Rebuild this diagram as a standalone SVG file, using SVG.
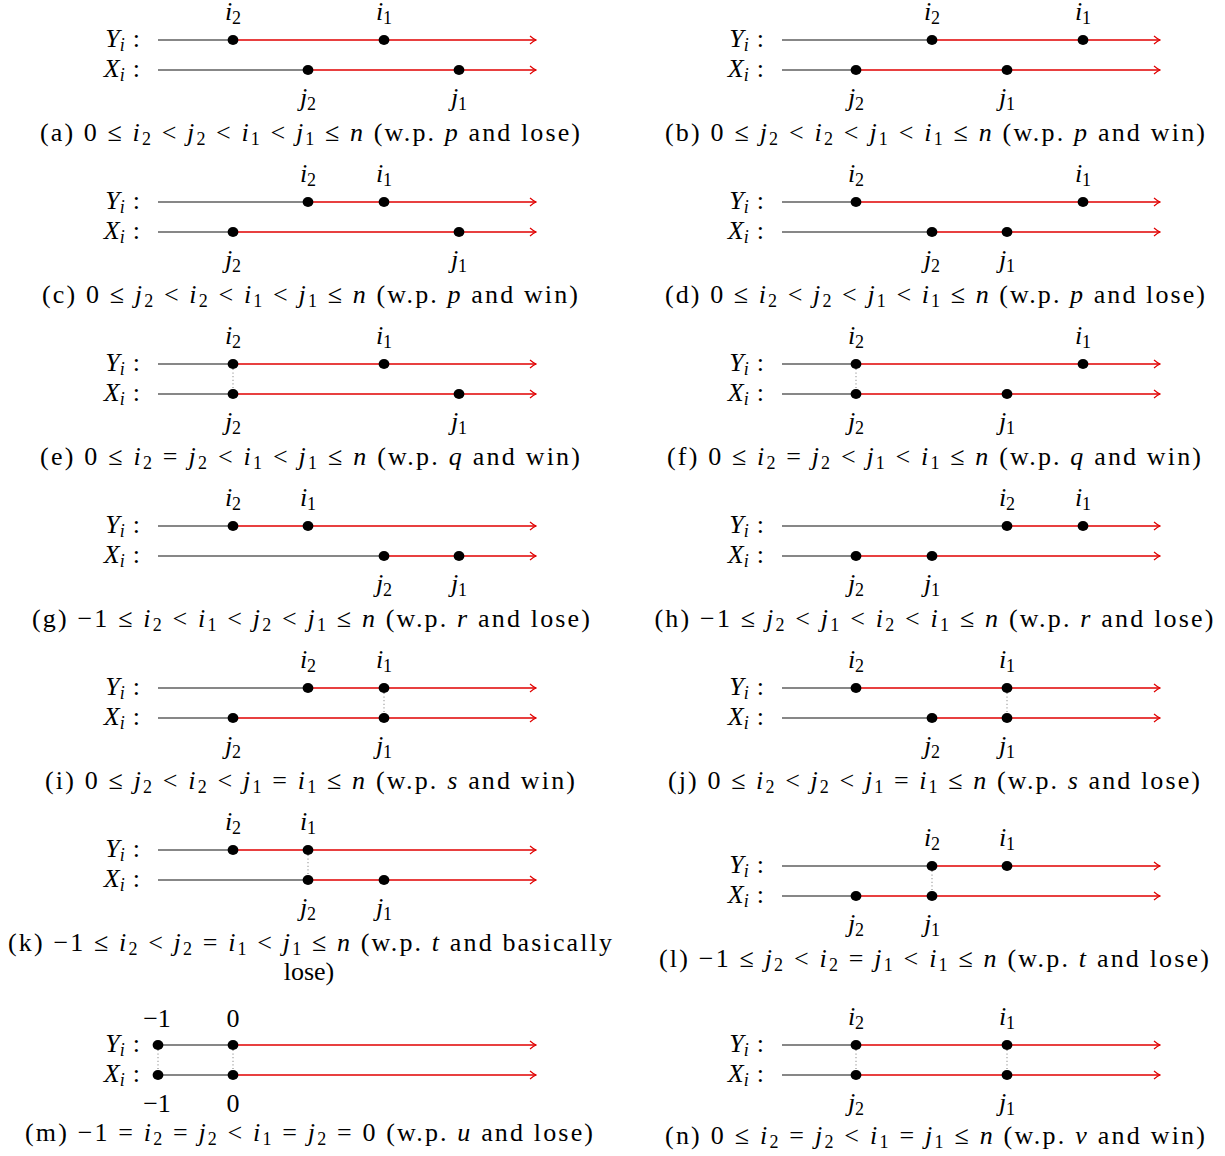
<svg xmlns="http://www.w3.org/2000/svg" width="1225" height="1156" viewBox="0 0 1225 1156">
<style>
text{font-family:"Liberation Serif",serif;font-size:26px;fill:#000}
.it{font-style:italic}
.s{font-size:18px}
.k{stroke:#111;stroke-width:1.2;fill:none}
.r{stroke:#e00000;stroke-width:1.3;fill:none;marker-end:url(#arr)}
.d{stroke:#666;stroke-width:0.9;stroke-dasharray:1 2.6;fill:none}
.m{text-anchor:middle}
.e{text-anchor:end}
</style>
<defs>
<marker id="arr" viewBox="-7 -5 8 10" refX="0" refY="0" markerWidth="8" markerHeight="10" markerUnits="userSpaceOnUse" orient="auto">
<path d="M-6,-4 Q-2.5,-1 0,0 Q-2.5,1 -6,4" stroke="#e00000" stroke-width="1.2" fill="none"/>
</marker>
<ellipse id="pt" rx="5.4" ry="5" fill="#000"/>
</defs>

<!-- (a) -->
<g id="panel-a">
<text x="140" y="47" class="e"><tspan class="it">Y</tspan><tspan class="s it" dy="4">i</tspan><tspan dx="8" dy="-4">:</tspan></text>
<text x="140" y="77" class="e"><tspan class="it">X</tspan><tspan class="s it" dy="4">i</tspan><tspan dx="8" dy="-4">:</tspan></text>
<g class="lines"><path class="k" d="M158,40H233M158,70H308"/><path class="r" d="M233,40H536"/><path class="r" d="M308,70H536"/></g>
<use href="#pt" x="233" y="40"/><use href="#pt" x="384" y="40"/><use href="#pt" x="308" y="70"/><use href="#pt" x="459" y="70"/>
<text x="233" y="20" class="m"><tspan class="it">i</tspan><tspan class="s" dy="4">2</tspan></text>
<text x="384" y="20" class="m"><tspan class="it">i</tspan><tspan class="s" dy="4">1</tspan></text>
<text x="308" y="106" class="m"><tspan class="it">j</tspan><tspan class="s" dy="4">2</tspan></text>
<text x="459" y="106" class="m"><tspan class="it">j</tspan><tspan class="s" dy="4">1</tspan></text>
<text x="310" y="141" class="m" textLength="540" lengthAdjust="spacing">(a) 0 ≤ <tspan class="it">i</tspan><tspan class="s" dy="4">2</tspan><tspan dy="-4"> &lt; </tspan><tspan class="it">j</tspan><tspan class="s" dy="4">2</tspan><tspan dy="-4"> &lt; </tspan><tspan class="it">i</tspan><tspan class="s" dy="4">1</tspan><tspan dy="-4"> &lt; </tspan><tspan class="it">j</tspan><tspan class="s" dy="4">1</tspan><tspan dy="-4"> ≤ </tspan><tspan class="it">n</tspan> (w.p. <tspan class="it">p</tspan> and lose)</text>
</g>

<!-- (b) -->
<g id="panel-b">
<text x="764" y="47" class="e"><tspan class="it">Y</tspan><tspan class="s it" dy="4">i</tspan><tspan dx="8" dy="-4">:</tspan></text>
<text x="764" y="77" class="e"><tspan class="it">X</tspan><tspan class="s it" dy="4">i</tspan><tspan dx="8" dy="-4">:</tspan></text>
<g class="lines"><path class="k" d="M782,40H932M782,70H856"/><path class="r" d="M932,40H1160"/><path class="r" d="M856,70H1160"/></g>
<use href="#pt" x="932" y="40"/><use href="#pt" x="1083" y="40"/><use href="#pt" x="856" y="70"/><use href="#pt" x="1007" y="70"/>
<text x="932" y="20" class="m"><tspan class="it">i</tspan><tspan class="s" dy="4">2</tspan></text>
<text x="1083" y="20" class="m"><tspan class="it">i</tspan><tspan class="s" dy="4">1</tspan></text>
<text x="856" y="106" class="m"><tspan class="it">j</tspan><tspan class="s" dy="4">2</tspan></text>
<text x="1007" y="106" class="m"><tspan class="it">j</tspan><tspan class="s" dy="4">1</tspan></text>
<text x="935" y="141" class="m" textLength="540" lengthAdjust="spacing">(b) 0 ≤ <tspan class="it">j</tspan><tspan class="s" dy="4">2</tspan><tspan dy="-4"> &lt; </tspan><tspan class="it">i</tspan><tspan class="s" dy="4">2</tspan><tspan dy="-4"> &lt; </tspan><tspan class="it">j</tspan><tspan class="s" dy="4">1</tspan><tspan dy="-4"> &lt; </tspan><tspan class="it">i</tspan><tspan class="s" dy="4">1</tspan><tspan dy="-4"> ≤ </tspan><tspan class="it">n</tspan> (w.p. <tspan class="it">p</tspan> and win)</text>
</g>

<!-- (c) -->
<g id="panel-c">
<text x="140" y="209" class="e"><tspan class="it">Y</tspan><tspan class="s it" dy="4">i</tspan><tspan dx="8" dy="-4">:</tspan></text>
<text x="140" y="239" class="e"><tspan class="it">X</tspan><tspan class="s it" dy="4">i</tspan><tspan dx="8" dy="-4">:</tspan></text>
<g class="lines"><path class="k" d="M158,202H308M158,232H233"/><path class="r" d="M308,202H536"/><path class="r" d="M233,232H536"/></g>
<use href="#pt" x="308" y="202"/><use href="#pt" x="384" y="202"/><use href="#pt" x="233" y="232"/><use href="#pt" x="459" y="232"/>
<text x="308" y="182" class="m"><tspan class="it">i</tspan><tspan class="s" dy="4">2</tspan></text>
<text x="384" y="182" class="m"><tspan class="it">i</tspan><tspan class="s" dy="4">1</tspan></text>
<text x="233" y="268" class="m"><tspan class="it">j</tspan><tspan class="s" dy="4">2</tspan></text>
<text x="459" y="268" class="m"><tspan class="it">j</tspan><tspan class="s" dy="4">1</tspan></text>
<text x="310" y="303" class="m" textLength="536" lengthAdjust="spacing">(c) 0 ≤ <tspan class="it">j</tspan><tspan class="s" dy="4">2</tspan><tspan dy="-4"> &lt; </tspan><tspan class="it">i</tspan><tspan class="s" dy="4">2</tspan><tspan dy="-4"> &lt; </tspan><tspan class="it">i</tspan><tspan class="s" dy="4">1</tspan><tspan dy="-4"> &lt; </tspan><tspan class="it">j</tspan><tspan class="s" dy="4">1</tspan><tspan dy="-4"> ≤ </tspan><tspan class="it">n</tspan> (w.p. <tspan class="it">p</tspan> and win)</text>
</g>

<!-- (d) -->
<g id="panel-d">
<text x="764" y="209" class="e"><tspan class="it">Y</tspan><tspan class="s it" dy="4">i</tspan><tspan dx="8" dy="-4">:</tspan></text>
<text x="764" y="239" class="e"><tspan class="it">X</tspan><tspan class="s it" dy="4">i</tspan><tspan dx="8" dy="-4">:</tspan></text>
<g class="lines"><path class="k" d="M782,202H856M782,232H932"/><path class="r" d="M856,202H1160"/><path class="r" d="M932,232H1160"/></g>
<use href="#pt" x="856" y="202"/><use href="#pt" x="1083" y="202"/><use href="#pt" x="932" y="232"/><use href="#pt" x="1007" y="232"/>
<text x="856" y="182" class="m"><tspan class="it">i</tspan><tspan class="s" dy="4">2</tspan></text>
<text x="1083" y="182" class="m"><tspan class="it">i</tspan><tspan class="s" dy="4">1</tspan></text>
<text x="932" y="268" class="m"><tspan class="it">j</tspan><tspan class="s" dy="4">2</tspan></text>
<text x="1007" y="268" class="m"><tspan class="it">j</tspan><tspan class="s" dy="4">1</tspan></text>
<text x="935" y="303" class="m" textLength="540" lengthAdjust="spacing">(d) 0 ≤ <tspan class="it">i</tspan><tspan class="s" dy="4">2</tspan><tspan dy="-4"> &lt; </tspan><tspan class="it">j</tspan><tspan class="s" dy="4">2</tspan><tspan dy="-4"> &lt; </tspan><tspan class="it">j</tspan><tspan class="s" dy="4">1</tspan><tspan dy="-4"> &lt; </tspan><tspan class="it">i</tspan><tspan class="s" dy="4">1</tspan><tspan dy="-4"> ≤ </tspan><tspan class="it">n</tspan> (w.p. <tspan class="it">p</tspan> and lose)</text>
</g>

<!-- (e) -->
<g id="panel-e">
<text x="140" y="371" class="e"><tspan class="it">Y</tspan><tspan class="s it" dy="4">i</tspan><tspan dx="8" dy="-4">:</tspan></text>
<text x="140" y="401" class="e"><tspan class="it">X</tspan><tspan class="s it" dy="4">i</tspan><tspan dx="8" dy="-4">:</tspan></text>
<g class="lines"><path class="k" d="M158,364H233M158,394H233"/><path class="r" d="M233,364H536"/><path class="r" d="M233,394H536"/><path class="d" d="M233,369V389"/></g>
<use href="#pt" x="233" y="364"/><use href="#pt" x="384" y="364"/><use href="#pt" x="233" y="394"/><use href="#pt" x="459" y="394"/>
<text x="233" y="344" class="m"><tspan class="it">i</tspan><tspan class="s" dy="4">2</tspan></text>
<text x="384" y="344" class="m"><tspan class="it">i</tspan><tspan class="s" dy="4">1</tspan></text>
<text x="233" y="430" class="m"><tspan class="it">j</tspan><tspan class="s" dy="4">2</tspan></text>
<text x="459" y="430" class="m"><tspan class="it">j</tspan><tspan class="s" dy="4">1</tspan></text>
<text x="310" y="465" class="m" textLength="540" lengthAdjust="spacing">(e) 0 ≤ <tspan class="it">i</tspan><tspan class="s" dy="4">2</tspan><tspan dy="-4"> = </tspan><tspan class="it">j</tspan><tspan class="s" dy="4">2</tspan><tspan dy="-4"> &lt; </tspan><tspan class="it">i</tspan><tspan class="s" dy="4">1</tspan><tspan dy="-4"> &lt; </tspan><tspan class="it">j</tspan><tspan class="s" dy="4">1</tspan><tspan dy="-4"> ≤ </tspan><tspan class="it">n</tspan> (w.p. <tspan class="it">q</tspan> and win)</text>
</g>

<!-- (f) -->
<g id="panel-f">
<text x="764" y="371" class="e"><tspan class="it">Y</tspan><tspan class="s it" dy="4">i</tspan><tspan dx="8" dy="-4">:</tspan></text>
<text x="764" y="401" class="e"><tspan class="it">X</tspan><tspan class="s it" dy="4">i</tspan><tspan dx="8" dy="-4">:</tspan></text>
<g class="lines"><path class="k" d="M782,364H856M782,394H856"/><path class="r" d="M856,364H1160"/><path class="r" d="M856,394H1160"/><path class="d" d="M856,369V389"/></g>
<use href="#pt" x="856" y="364"/><use href="#pt" x="1083" y="364"/><use href="#pt" x="856" y="394"/><use href="#pt" x="1007" y="394"/>
<text x="856" y="344" class="m"><tspan class="it">i</tspan><tspan class="s" dy="4">2</tspan></text>
<text x="1083" y="344" class="m"><tspan class="it">i</tspan><tspan class="s" dy="4">1</tspan></text>
<text x="856" y="430" class="m"><tspan class="it">j</tspan><tspan class="s" dy="4">2</tspan></text>
<text x="1007" y="430" class="m"><tspan class="it">j</tspan><tspan class="s" dy="4">1</tspan></text>
<text x="934" y="465" class="m" textLength="534" lengthAdjust="spacing">(f) 0 ≤ <tspan class="it">i</tspan><tspan class="s" dy="4">2</tspan><tspan dy="-4"> = </tspan><tspan class="it">j</tspan><tspan class="s" dy="4">2</tspan><tspan dy="-4"> &lt; </tspan><tspan class="it">j</tspan><tspan class="s" dy="4">1</tspan><tspan dy="-4"> &lt; </tspan><tspan class="it">i</tspan><tspan class="s" dy="4">1</tspan><tspan dy="-4"> ≤ </tspan><tspan class="it">n</tspan> (w.p. <tspan class="it">q</tspan> and win)</text>
</g>

<!-- (g) -->
<g id="panel-g">
<text x="140" y="533" class="e"><tspan class="it">Y</tspan><tspan class="s it" dy="4">i</tspan><tspan dx="8" dy="-4">:</tspan></text>
<text x="140" y="563" class="e"><tspan class="it">X</tspan><tspan class="s it" dy="4">i</tspan><tspan dx="8" dy="-4">:</tspan></text>
<g class="lines"><path class="k" d="M158,526H233M158,556H384"/><path class="r" d="M233,526H536"/><path class="r" d="M384,556H536"/></g>
<use href="#pt" x="233" y="526"/><use href="#pt" x="308" y="526"/><use href="#pt" x="384" y="556"/><use href="#pt" x="459" y="556"/>
<text x="233" y="506" class="m"><tspan class="it">i</tspan><tspan class="s" dy="4">2</tspan></text>
<text x="308" y="506" class="m"><tspan class="it">i</tspan><tspan class="s" dy="4">1</tspan></text>
<text x="384" y="592" class="m"><tspan class="it">j</tspan><tspan class="s" dy="4">2</tspan></text>
<text x="459" y="592" class="m"><tspan class="it">j</tspan><tspan class="s" dy="4">1</tspan></text>
<text x="311" y="627" class="m" textLength="558" lengthAdjust="spacing">(g) −1 ≤ <tspan class="it">i</tspan><tspan class="s" dy="4">2</tspan><tspan dy="-4"> &lt; </tspan><tspan class="it">i</tspan><tspan class="s" dy="4">1</tspan><tspan dy="-4"> &lt; </tspan><tspan class="it">j</tspan><tspan class="s" dy="4">2</tspan><tspan dy="-4"> &lt; </tspan><tspan class="it">j</tspan><tspan class="s" dy="4">1</tspan><tspan dy="-4"> ≤ </tspan><tspan class="it">n</tspan> (w.p. <tspan class="it">r</tspan> and lose)</text>
</g>

<!-- (h) -->
<g id="panel-h">
<text x="764" y="533" class="e"><tspan class="it">Y</tspan><tspan class="s it" dy="4">i</tspan><tspan dx="8" dy="-4">:</tspan></text>
<text x="764" y="563" class="e"><tspan class="it">X</tspan><tspan class="s it" dy="4">i</tspan><tspan dx="8" dy="-4">:</tspan></text>
<g class="lines"><path class="k" d="M782,526H1007M782,556H856"/><path class="r" d="M1007,526H1160"/><path class="r" d="M856,556H1160"/></g>
<use href="#pt" x="1007" y="526"/><use href="#pt" x="1083" y="526"/><use href="#pt" x="856" y="556"/><use href="#pt" x="932" y="556"/>
<text x="1007" y="506" class="m"><tspan class="it">i</tspan><tspan class="s" dy="4">2</tspan></text>
<text x="1083" y="506" class="m"><tspan class="it">i</tspan><tspan class="s" dy="4">1</tspan></text>
<text x="856" y="592" class="m"><tspan class="it">j</tspan><tspan class="s" dy="4">2</tspan></text>
<text x="932" y="592" class="m"><tspan class="it">j</tspan><tspan class="s" dy="4">1</tspan></text>
<text x="934" y="627" class="m" textLength="559" lengthAdjust="spacing">(h) −1 ≤ <tspan class="it">j</tspan><tspan class="s" dy="4">2</tspan><tspan dy="-4"> &lt; </tspan><tspan class="it">j</tspan><tspan class="s" dy="4">1</tspan><tspan dy="-4"> &lt; </tspan><tspan class="it">i</tspan><tspan class="s" dy="4">2</tspan><tspan dy="-4"> &lt; </tspan><tspan class="it">i</tspan><tspan class="s" dy="4">1</tspan><tspan dy="-4"> ≤ </tspan><tspan class="it">n</tspan> (w.p. <tspan class="it">r</tspan> and lose)</text>
</g>

<!-- (i) -->
<g id="panel-i">
<text x="140" y="695" class="e"><tspan class="it">Y</tspan><tspan class="s it" dy="4">i</tspan><tspan dx="8" dy="-4">:</tspan></text>
<text x="140" y="725" class="e"><tspan class="it">X</tspan><tspan class="s it" dy="4">i</tspan><tspan dx="8" dy="-4">:</tspan></text>
<g class="lines"><path class="k" d="M158,688H308M158,718H233"/><path class="r" d="M308,688H536"/><path class="r" d="M233,718H536"/><path class="d" d="M384,693V713"/></g>
<use href="#pt" x="308" y="688"/><use href="#pt" x="384" y="688"/><use href="#pt" x="233" y="718"/><use href="#pt" x="384" y="718"/>
<text x="308" y="668" class="m"><tspan class="it">i</tspan><tspan class="s" dy="4">2</tspan></text>
<text x="384" y="668" class="m"><tspan class="it">i</tspan><tspan class="s" dy="4">1</tspan></text>
<text x="233" y="754" class="m"><tspan class="it">j</tspan><tspan class="s" dy="4">2</tspan></text>
<text x="384" y="754" class="m"><tspan class="it">j</tspan><tspan class="s" dy="4">1</tspan></text>
<text x="310" y="789" class="m" textLength="530" lengthAdjust="spacing">(i) 0 ≤ <tspan class="it">j</tspan><tspan class="s" dy="4">2</tspan><tspan dy="-4"> &lt; </tspan><tspan class="it">i</tspan><tspan class="s" dy="4">2</tspan><tspan dy="-4"> &lt; </tspan><tspan class="it">j</tspan><tspan class="s" dy="4">1</tspan><tspan dy="-4"> = </tspan><tspan class="it">i</tspan><tspan class="s" dy="4">1</tspan><tspan dy="-4"> ≤ </tspan><tspan class="it">n</tspan> (w.p. <tspan class="it">s</tspan> and win)</text>
</g>

<!-- (j) -->
<g id="panel-j">
<text x="764" y="695" class="e"><tspan class="it">Y</tspan><tspan class="s it" dy="4">i</tspan><tspan dx="8" dy="-4">:</tspan></text>
<text x="764" y="725" class="e"><tspan class="it">X</tspan><tspan class="s it" dy="4">i</tspan><tspan dx="8" dy="-4">:</tspan></text>
<g class="lines"><path class="k" d="M782,688H856M782,718H932"/><path class="r" d="M856,688H1160"/><path class="r" d="M932,718H1160"/><path class="d" d="M1007,693V713"/></g>
<use href="#pt" x="856" y="688"/><use href="#pt" x="1007" y="688"/><use href="#pt" x="932" y="718"/><use href="#pt" x="1007" y="718"/>
<text x="856" y="668" class="m"><tspan class="it">i</tspan><tspan class="s" dy="4">2</tspan></text>
<text x="1007" y="668" class="m"><tspan class="it">i</tspan><tspan class="s" dy="4">1</tspan></text>
<text x="932" y="754" class="m"><tspan class="it">j</tspan><tspan class="s" dy="4">2</tspan></text>
<text x="1007" y="754" class="m"><tspan class="it">j</tspan><tspan class="s" dy="4">1</tspan></text>
<text x="934" y="789" class="m" textLength="532" lengthAdjust="spacing">(j) 0 ≤ <tspan class="it">i</tspan><tspan class="s" dy="4">2</tspan><tspan dy="-4"> &lt; </tspan><tspan class="it">j</tspan><tspan class="s" dy="4">2</tspan><tspan dy="-4"> &lt; </tspan><tspan class="it">j</tspan><tspan class="s" dy="4">1</tspan><tspan dy="-4"> = </tspan><tspan class="it">i</tspan><tspan class="s" dy="4">1</tspan><tspan dy="-4"> ≤ </tspan><tspan class="it">n</tspan> (w.p. <tspan class="it">s</tspan> and lose)</text>
</g>

<!-- (k) -->
<g id="panel-k">
<text x="140" y="857" class="e"><tspan class="it">Y</tspan><tspan class="s it" dy="4">i</tspan><tspan dx="8" dy="-4">:</tspan></text>
<text x="140" y="887" class="e"><tspan class="it">X</tspan><tspan class="s it" dy="4">i</tspan><tspan dx="8" dy="-4">:</tspan></text>
<g class="lines"><path class="k" d="M158,850H233M158,880H308"/><path class="r" d="M233,850H536"/><path class="r" d="M308,880H536"/><path class="d" d="M308,855V875"/></g>
<use href="#pt" x="233" y="850"/><use href="#pt" x="308" y="850"/><use href="#pt" x="308" y="880"/><use href="#pt" x="384" y="880"/>
<text x="233" y="830" class="m"><tspan class="it">i</tspan><tspan class="s" dy="4">2</tspan></text>
<text x="308" y="830" class="m"><tspan class="it">i</tspan><tspan class="s" dy="4">1</tspan></text>
<text x="308" y="916" class="m"><tspan class="it">j</tspan><tspan class="s" dy="4">2</tspan></text>
<text x="384" y="916" class="m"><tspan class="it">j</tspan><tspan class="s" dy="4">1</tspan></text>
<text x="310" y="951" class="m" textLength="604" lengthAdjust="spacing">(k) −1 ≤ <tspan class="it">i</tspan><tspan class="s" dy="4">2</tspan><tspan dy="-4"> &lt; </tspan><tspan class="it">j</tspan><tspan class="s" dy="4">2</tspan><tspan dy="-4"> = </tspan><tspan class="it">i</tspan><tspan class="s" dy="4">1</tspan><tspan dy="-4"> &lt; </tspan><tspan class="it">j</tspan><tspan class="s" dy="4">1</tspan><tspan dy="-4"> ≤ </tspan><tspan class="it">n</tspan> (w.p. <tspan class="it">t</tspan> and basically</text>
<text x="309" y="980" class="m">lose)</text>
</g>

<!-- (l) -->
<g id="panel-l">
<text x="764" y="873" class="e"><tspan class="it">Y</tspan><tspan class="s it" dy="4">i</tspan><tspan dx="8" dy="-4">:</tspan></text>
<text x="764" y="903" class="e"><tspan class="it">X</tspan><tspan class="s it" dy="4">i</tspan><tspan dx="8" dy="-4">:</tspan></text>
<g class="lines"><path class="k" d="M782,866H932M782,896H856"/><path class="r" d="M932,866H1160"/><path class="r" d="M856,896H1160"/><path class="d" d="M932,871V891"/></g>
<use href="#pt" x="932" y="866"/><use href="#pt" x="1007" y="866"/><use href="#pt" x="856" y="896"/><use href="#pt" x="932" y="896"/>
<text x="932" y="846" class="m"><tspan class="it">i</tspan><tspan class="s" dy="4">2</tspan></text>
<text x="1007" y="846" class="m"><tspan class="it">i</tspan><tspan class="s" dy="4">1</tspan></text>
<text x="856" y="932" class="m"><tspan class="it">j</tspan><tspan class="s" dy="4">2</tspan></text>
<text x="932" y="932" class="m"><tspan class="it">j</tspan><tspan class="s" dy="4">1</tspan></text>
<text x="934" y="967" class="m" textLength="550" lengthAdjust="spacing">(l) −1 ≤ <tspan class="it">j</tspan><tspan class="s" dy="4">2</tspan><tspan dy="-4"> &lt; </tspan><tspan class="it">i</tspan><tspan class="s" dy="4">2</tspan><tspan dy="-4"> = </tspan><tspan class="it">j</tspan><tspan class="s" dy="4">1</tspan><tspan dy="-4"> &lt; </tspan><tspan class="it">i</tspan><tspan class="s" dy="4">1</tspan><tspan dy="-4"> ≤ </tspan><tspan class="it">n</tspan> (w.p. <tspan class="it">t</tspan> and lose)</text>
</g>

<!-- (m) -->
<g id="panel-m">
<text x="140" y="1052" class="e"><tspan class="it">Y</tspan><tspan class="s it" dy="4">i</tspan><tspan dx="8" dy="-4">:</tspan></text>
<text x="140" y="1082" class="e"><tspan class="it">X</tspan><tspan class="s it" dy="4">i</tspan><tspan dx="8" dy="-4">:</tspan></text>
<g class="lines"><path class="k" d="M158,1045H233M158,1075H233"/><path class="r" d="M233,1045H536"/><path class="r" d="M233,1075H536"/><path class="d" d="M158,1050V1070M233,1050V1070"/></g>
<use href="#pt" x="158" y="1045"/><use href="#pt" x="233" y="1045"/><use href="#pt" x="158" y="1075"/><use href="#pt" x="233" y="1075"/>
<text x="157" y="1027" class="m">−1</text>
<text x="233" y="1027" class="m">0</text>
<text x="157" y="1112" class="m">−1</text>
<text x="233" y="1112" class="m">0</text>
<text x="309" y="1141" class="m" textLength="568" lengthAdjust="spacing">(m) −1 = <tspan class="it">i</tspan><tspan class="s" dy="4">2</tspan><tspan dy="-4"> = </tspan><tspan class="it">j</tspan><tspan class="s" dy="4">2</tspan><tspan dy="-4"> &lt; </tspan><tspan class="it">i</tspan><tspan class="s" dy="4">1</tspan><tspan dy="-4"> = </tspan><tspan class="it">j</tspan><tspan class="s" dy="4">2</tspan><tspan dy="-4"> = 0 (w.p. </tspan><tspan class="it">u</tspan> and lose)</text>
</g>

<!-- (n) -->
<g id="panel-n">
<text x="764" y="1052" class="e"><tspan class="it">Y</tspan><tspan class="s it" dy="4">i</tspan><tspan dx="8" dy="-4">:</tspan></text>
<text x="764" y="1082" class="e"><tspan class="it">X</tspan><tspan class="s it" dy="4">i</tspan><tspan dx="8" dy="-4">:</tspan></text>
<g class="lines"><path class="k" d="M782,1045H856M782,1075H856"/><path class="r" d="M856,1045H1160"/><path class="r" d="M856,1075H1160"/><path class="d" d="M856,1050V1070M1007,1050V1070"/></g>
<use href="#pt" x="856" y="1045"/><use href="#pt" x="1007" y="1045"/><use href="#pt" x="856" y="1075"/><use href="#pt" x="1007" y="1075"/>
<text x="856" y="1025" class="m"><tspan class="it">i</tspan><tspan class="s" dy="4">2</tspan></text>
<text x="1007" y="1025" class="m"><tspan class="it">i</tspan><tspan class="s" dy="4">1</tspan></text>
<text x="856" y="1111" class="m"><tspan class="it">j</tspan><tspan class="s" dy="4">2</tspan></text>
<text x="1007" y="1111" class="m"><tspan class="it">j</tspan><tspan class="s" dy="4">1</tspan></text>
<text x="935" y="1144" class="m" textLength="540" lengthAdjust="spacing">(n) 0 ≤ <tspan class="it">i</tspan><tspan class="s" dy="4">2</tspan><tspan dy="-4"> = </tspan><tspan class="it">j</tspan><tspan class="s" dy="4">2</tspan><tspan dy="-4"> &lt; </tspan><tspan class="it">i</tspan><tspan class="s" dy="4">1</tspan><tspan dy="-4"> = </tspan><tspan class="it">j</tspan><tspan class="s" dy="4">1</tspan><tspan dy="-4"> ≤ </tspan><tspan class="it">n</tspan> (w.p. <tspan class="it">v</tspan> and win)</text>
</g>
</svg>
